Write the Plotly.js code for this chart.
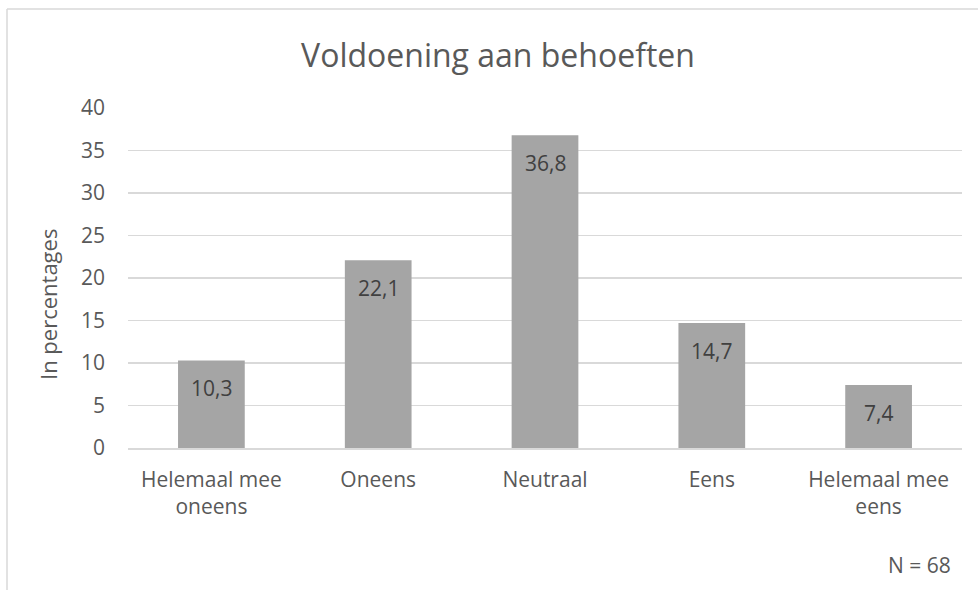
<!DOCTYPE html>
<html>
<head>
<meta charset="utf-8">
<script src="https://cdn.plot.ly/plotly-3.0.1.min.js"></script>
<style>
  html, body { margin: 0; padding: 0; background: #ffffff; }
  #chart { width: 978px; height: 590px; }
</style>
</head>
<body>
<div id="chart"></div>
<script>
const categories = ["Helemaal mee<br>oneens", "Oneens", "Neutraal", "Eens", "Helemaal mee<br>eens"];
const values = [10.3, 22.1, 36.8, 14.7, 7.4];
const valueLabels = ["10,3", "22,1", "36,8", "14,7", "7,4"];
const yTicks = [0, 5, 10, 15, 20, 25, 30, 35, 40];

const W = 978, H = 590;
const mL = 128, mR = 16, mT = 108, mB = 142;
const pw = W - mL - mR, ph = H - mT - mB;
const px2x = p => (p - mL) / pw;
const py2y = p => 1 - (p - mT) / ph;

const font = "'Open Sans', 'DejaVu Sans', sans-serif";
const txt = "#595959";
const fs = 21;

const trace = {
  type: "bar",
  x: categories,
  y: values,
  marker: { color: "#a5a5a5" },
  hoverinfo: "skip"
};

const annotations = values.map((v, i) => ({
  x: categories[i], y: v, xref: "x", yref: "y",
  text: valueLabels[i], showarrow: false,
  yanchor: "middle", yshift: -28,
  font: { family: font, size: fs, color: "#404040" }
}));

annotations.push({
  xref: "paper", yref: "paper", x: px2x(48), y: py2y(305),
  text: "In percentages", textangle: -90, showarrow: false,
  xanchor: "center", yanchor: "middle",
  font: { family: font, size: 22, color: txt }
});
annotations.push({
  xref: "paper", yref: "paper", x: px2x(953), y: py2y(565),
  text: "N = 68", showarrow: false,
  xanchor: "right", yanchor: "middle",
  font: { family: font, size: fs, color: txt }
});

const layout = {
  width: W, height: H,
  margin: { l: mL, r: mR, t: mT, b: mB, pad: 0 },
  paper_bgcolor: "#ffffff",
  plot_bgcolor: "#ffffff",
  showlegend: false,
  bargap: 0.6,
  title: {
    text: "Voldoening aan behoeften",
    font: { family: font, size: 32, color: txt },
    x: 498 / W, xref: "container", xanchor: "center",
    y: 1 - 56 / H, yref: "container", yanchor: "middle"
  },
  xaxis: {
    type: "category",
    showgrid: false,
    showline: true, linecolor: "#d9d9d9", linewidth: 1.5,
    ticks: "", zeroline: false,
    tickfont: { family: font, size: fs, color: txt },
    ticklabelstandoff: 12,
    fixedrange: true
  },
  yaxis: {
    range: [0, 40],
    tickvals: yTicks,
    ticktext: yTicks.map(String),
    showgrid: true, gridcolor: "#d9d9d9", gridwidth: 1.5,
    zeroline: false, showline: false, ticks: "",
    tickfont: { family: font, size: fs, color: txt },
    ticklabelstandoff: 22,
    fixedrange: true
  },
  annotations: annotations,
  shapes: [
    { type: "line", xref: "paper", yref: "paper",
      x0: px2x(7), x1: px2x(978), y0: py2y(9), y1: py2y(9),
      line: { color: "#d9d9d9", width: 1.5 } },
    { type: "line", xref: "paper", yref: "paper",
      x0: px2x(7), x1: px2x(7), y0: py2y(9), y1: py2y(590),
      line: { color: "#d9d9d9", width: 1.5 } }
  ]
};

Plotly.newPlot("chart", [trace], layout, { displayModeBar: false, staticPlot: true });
</script>
</body>
</html>
